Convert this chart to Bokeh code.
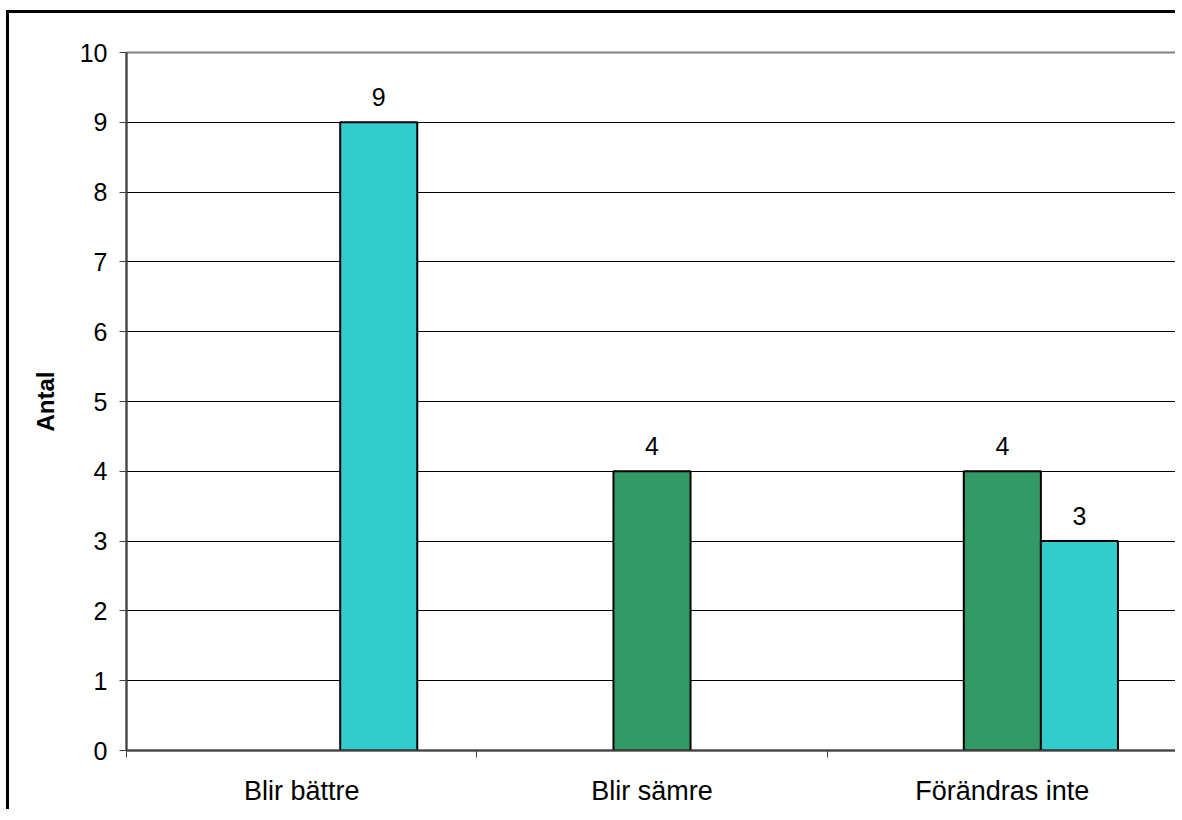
from bokeh.plotting import figure
from bokeh.models import Range1d, FixedTicker, LinearAxis, ColumnDataSource
from bokeh.embed import file_html
from bokeh.resources import INLINE
from bokeh.core.properties import value

categories = ["Blir bättre", "Blir sämre", "Förändras inte"]
series_green = [0, 4, 4]
series_cyan = [9, 0, 3]
y_ticks = list(range(0, 11))
y_label = "Antal"

FONT = "Liberation Sans"
GREEN = "#339966"
CYAN = "#33CCCC"
BAR_W = 0.22

p = figure(width=1169, height=799, output_backend="svg", toolbar_location=None,
           x_range=Range1d(0, len(categories)), y_range=Range1d(0, 10),
           min_border_left=117, min_border_top=39, min_border_right=1,
           min_border_bottom=62, background_fill_color="white",
           border_fill_color="white")
p.styles = {"border-top": "3px solid black", "border-left": "3px solid black",
            "margin-top": "10px", "margin-left": "6px"}

p.outline_line_color = "#808080"
p.outline_line_width = 2

# grid
p.xgrid.visible = False
p.ygrid.ticker = FixedTicker(ticks=y_ticks)
p.ygrid.grid_line_color = "black"
p.ygrid.grid_line_width = 1

# y axis
p.yaxis.ticker = FixedTicker(ticks=y_ticks)
p.yaxis.minor_tick_line_color = None
p.yaxis.major_tick_in = 0
p.yaxis.major_tick_out = 7
p.yaxis.major_tick_line_color = "#404040"
p.yaxis.major_tick_line_width = 1
p.yaxis.axis_line_color = "#404040"
p.yaxis.axis_line_width = 2
p.yaxis.major_label_text_font = FONT
p.yaxis.major_label_text_font_size = "25px"
p.yaxis.major_label_text_color = "black"
p.yaxis.major_label_standoff = 12
p.yaxis.axis_label = y_label
p.yaxis.axis_label_text_font = FONT
p.yaxis.axis_label_text_font_style = "bold"
p.yaxis.axis_label_text_font_size = "24px"
p.yaxis.axis_label_text_color = "black"
p.yaxis.axis_label_standoff = 18

# x axis: boundary ticks, no labels
n = len(categories)
p.xaxis.ticker = FixedTicker(ticks=list(range(n + 1)))
p.xaxis.minor_tick_line_color = None
p.xaxis.major_tick_in = 0
p.xaxis.major_tick_out = 7
p.xaxis.major_tick_line_color = "#404040"
p.xaxis.axis_line_color = "#404040"
p.xaxis.axis_line_width = 2
p.xaxis.major_label_text_font_size = "0px"
p.xaxis.major_label_standoff = 0
p.xaxis.major_label_overrides = {i: "" for i in range(n + 1)}

# x axis: category labels at centres
centers = [i + 0.5 for i in range(n)]
cat_axis = LinearAxis(ticker=FixedTicker(ticks=centers),
                      major_label_overrides={c: lab for c, lab in zip(centers, categories)},
                      axis_line_color=None, major_tick_line_color=None,
                      minor_tick_line_color=None,
                      major_label_text_font=FONT, major_label_text_font_size="27px",
                      major_label_text_color="black", major_label_standoff=12)
p.add_layout(cat_axis, "below")

# bars
def make_src(vals, offset):
    xs, ys, labs = [], [], []
    for i, v in enumerate(vals):
        if v:
            xs.append(i + 0.5 + offset)
            ys.append(v)
            labs.append(str(v))
    return ColumnDataSource(dict(x=xs, top=ys, lab=labs))

src_g = make_src(series_green, 0.0)
src_c = make_src(series_cyan, BAR_W)

for src, col in ((src_g, GREEN), (src_c, CYAN)):
    p.vbar(x="x", top="top", bottom=0, width=BAR_W, source=src,
           fill_color=col, line_color="black", line_width=2)
    p.text(x="x", y="top", text="lab", source=src, text_align="center",
           text_baseline="alphabetic", y_offset=-25,
           text_font=value(FONT), text_font_size="25px", text_color="black")

open("out.html", "w").write(file_html(p, INLINE))
